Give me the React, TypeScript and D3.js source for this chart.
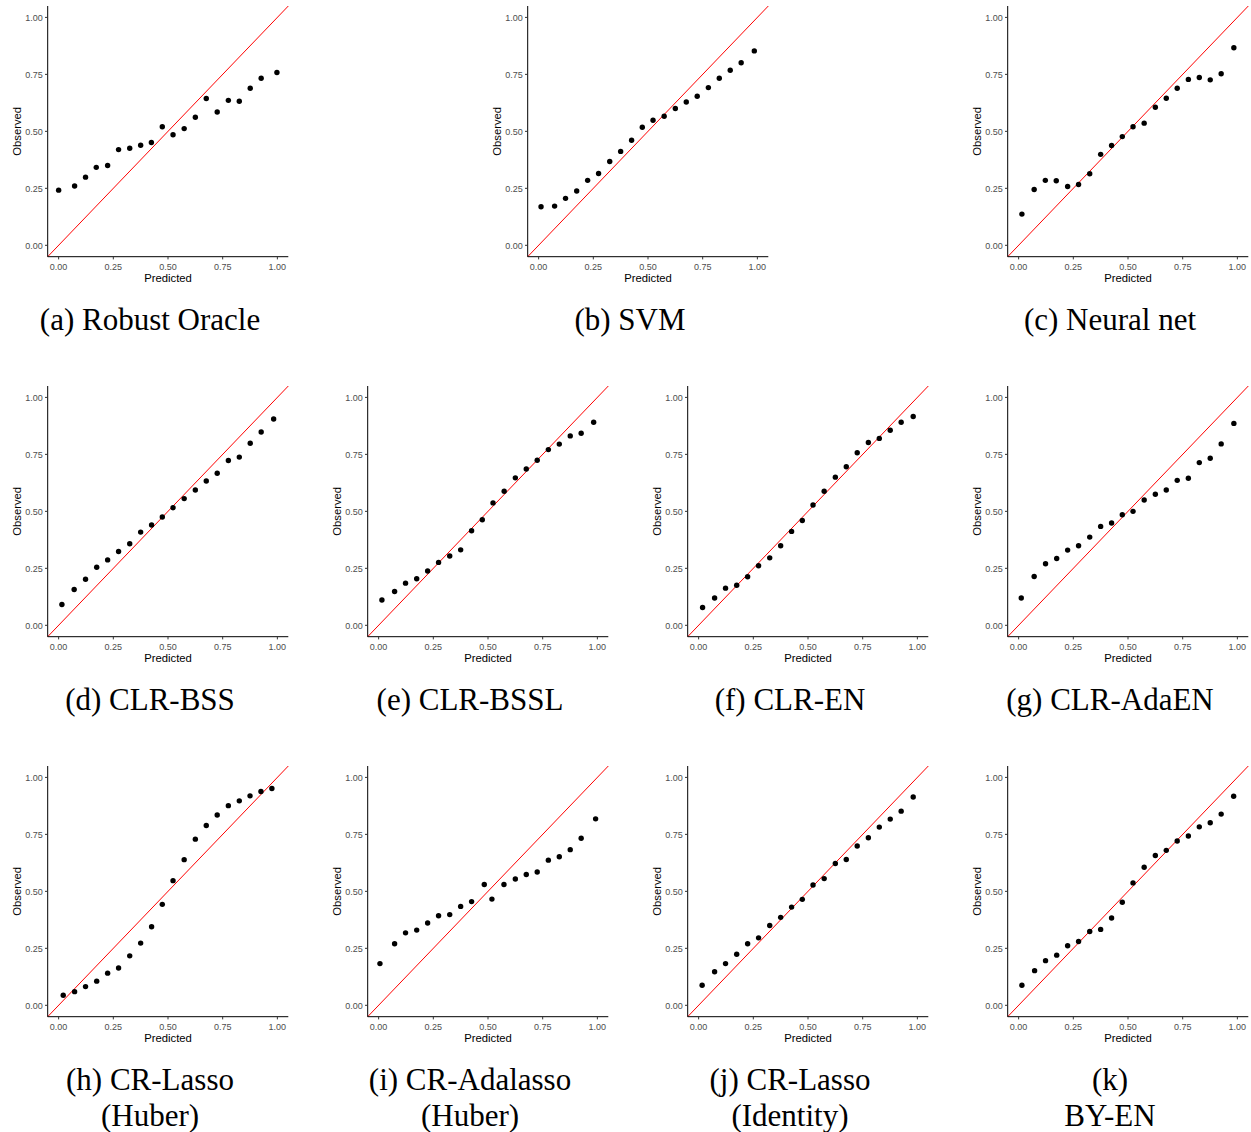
import React from 'react';
import * as d3 from 'd3';

const svgWidth = 1251;
const svgHeight = 1132;

const tickValues = [0, 0.25, 0.5, 0.75, 1];

const robustOracleX = [0.0, 0.073, 0.123, 0.172, 0.224, 0.274, 0.325, 0.375, 0.424, 0.474, 0.523, 0.574, 0.625, 0.675, 0.725, 0.776, 0.826, 0.876, 0.926, 0.998];
const robustOracleY = [0.242, 0.26, 0.299, 0.342, 0.35, 0.42, 0.426, 0.439, 0.451, 0.52, 0.485, 0.512, 0.562, 0.644, 0.585, 0.636, 0.632, 0.689, 0.733, 0.758];

const svmX = [0.011, 0.073, 0.123, 0.174, 0.224, 0.274, 0.325, 0.375, 0.425, 0.474, 0.523, 0.574, 0.625, 0.675, 0.725, 0.776, 0.826, 0.876, 0.926, 0.986];
const svmY = [0.169, 0.172, 0.206, 0.238, 0.285, 0.315, 0.368, 0.412, 0.461, 0.518, 0.549, 0.566, 0.6, 0.629, 0.654, 0.692, 0.733, 0.768, 0.801, 0.853];

const neuralNetX = [0.015, 0.071, 0.122, 0.172, 0.224, 0.274, 0.325, 0.375, 0.425, 0.474, 0.523, 0.574, 0.625, 0.675, 0.725, 0.776, 0.826, 0.876, 0.926, 0.984];
const neuralNetY = [0.137, 0.245, 0.285, 0.283, 0.258, 0.267, 0.314, 0.399, 0.438, 0.477, 0.52, 0.536, 0.606, 0.645, 0.689, 0.728, 0.736, 0.726, 0.753, 0.867];

const clrBssX = [0.015, 0.071, 0.123, 0.174, 0.224, 0.274, 0.325, 0.375, 0.425, 0.474, 0.523, 0.574, 0.625, 0.675, 0.725, 0.776, 0.826, 0.876, 0.926, 0.983];
const clrBssY = [0.091, 0.157, 0.202, 0.255, 0.287, 0.324, 0.358, 0.409, 0.44, 0.475, 0.516, 0.556, 0.594, 0.633, 0.667, 0.723, 0.738, 0.799, 0.848, 0.905];

const clrBsslX = [0.015, 0.073, 0.123, 0.174, 0.224, 0.274, 0.325, 0.375, 0.425, 0.474, 0.523, 0.574, 0.625, 0.675, 0.725, 0.776, 0.826, 0.876, 0.926, 0.983];
const clrBsslY = [0.111, 0.148, 0.185, 0.204, 0.238, 0.276, 0.304, 0.331, 0.415, 0.463, 0.537, 0.588, 0.647, 0.686, 0.724, 0.771, 0.795, 0.831, 0.843, 0.891];

const clrEnX = [0.018, 0.073, 0.123, 0.174, 0.224, 0.274, 0.325, 0.375, 0.425, 0.474, 0.523, 0.574, 0.625, 0.675, 0.725, 0.776, 0.826, 0.876, 0.926, 0.981];
const clrEnY = [0.078, 0.12, 0.163, 0.176, 0.213, 0.261, 0.296, 0.349, 0.412, 0.46, 0.528, 0.588, 0.65, 0.696, 0.757, 0.802, 0.82, 0.856, 0.891, 0.916];

const clrAdaEnX = [0.012, 0.071, 0.123, 0.174, 0.224, 0.274, 0.325, 0.375, 0.425, 0.474, 0.523, 0.574, 0.625, 0.675, 0.725, 0.776, 0.826, 0.876, 0.926, 0.984];
const clrAdaEnY = [0.12, 0.214, 0.27, 0.293, 0.33, 0.349, 0.387, 0.434, 0.449, 0.485, 0.5, 0.55, 0.575, 0.594, 0.636, 0.645, 0.714, 0.733, 0.796, 0.886];

const crLassoHuberX = [0.021, 0.073, 0.123, 0.174, 0.224, 0.274, 0.325, 0.375, 0.425, 0.474, 0.523, 0.574, 0.625, 0.675, 0.725, 0.776, 0.826, 0.875, 0.925, 0.975];
const crLassoHuberY = [0.044, 0.06, 0.082, 0.106, 0.141, 0.164, 0.217, 0.273, 0.345, 0.443, 0.547, 0.639, 0.729, 0.789, 0.835, 0.876, 0.897, 0.919, 0.938, 0.951];

const crAdalassoHuberX = [0.006, 0.073, 0.123, 0.174, 0.224, 0.274, 0.325, 0.375, 0.425, 0.483, 0.518, 0.573, 0.625, 0.675, 0.725, 0.776, 0.826, 0.876, 0.926, 0.992];
const crAdalassoHuberY = [0.183, 0.27, 0.318, 0.33, 0.361, 0.393, 0.398, 0.434, 0.455, 0.53, 0.466, 0.53, 0.554, 0.574, 0.585, 0.637, 0.652, 0.683, 0.733, 0.818];

const crLassoIdentityX = [0.016, 0.073, 0.123, 0.174, 0.224, 0.274, 0.325, 0.375, 0.425, 0.474, 0.523, 0.574, 0.625, 0.675, 0.725, 0.776, 0.826, 0.876, 0.926, 0.981];
const crLassoIdentityY = [0.088, 0.147, 0.183, 0.224, 0.27, 0.296, 0.35, 0.386, 0.431, 0.465, 0.528, 0.556, 0.622, 0.64, 0.699, 0.735, 0.782, 0.817, 0.852, 0.914];

const byEnX = [0.015, 0.073, 0.123, 0.174, 0.224, 0.274, 0.325, 0.375, 0.425, 0.474, 0.523, 0.574, 0.625, 0.675, 0.725, 0.776, 0.826, 0.876, 0.926, 0.983];
const byEnY = [0.088, 0.152, 0.196, 0.22, 0.261, 0.28, 0.324, 0.333, 0.383, 0.452, 0.537, 0.606, 0.657, 0.68, 0.721, 0.743, 0.783, 0.801, 0.839, 0.917];

const panels = [
  { xs: robustOracleX, ys: robustOracleY, caption: ['(a) Robust Oracle'], ox: 0, oy: 0 },
  { xs: svmX, ys: svmY, caption: ['(b) SVM'], ox: 480, oy: 0 },
  { xs: neuralNetX, ys: neuralNetY, caption: ['(c) Neural net'], ox: 960, oy: 0 },
  { xs: clrBssX, ys: clrBssY, caption: ['(d) CLR-BSS'], ox: 0, oy: 380 },
  { xs: clrBsslX, ys: clrBsslY, caption: ['(e) CLR-BSSL'], ox: 320, oy: 380 },
  { xs: clrEnX, ys: clrEnY, caption: ['(f) CLR-EN'], ox: 640, oy: 380 },
  { xs: clrAdaEnX, ys: clrAdaEnY, caption: ['(g) CLR-AdaEN'], ox: 960, oy: 380 },
  { xs: crLassoHuberX, ys: crLassoHuberY, caption: ['(h) CR-Lasso', '(Huber)'], ox: 0, oy: 760 },
  { xs: crAdalassoHuberX, ys: crAdalassoHuberY, caption: ['(i) CR-Adalasso', '(Huber)'], ox: 320, oy: 760 },
  { xs: crLassoIdentityX, ys: crLassoIdentityY, caption: ['(j) CR-Lasso', '(Identity)'], ox: 640, oy: 760 },
  { xs: byEnX, ys: byEnY, caption: ['(k)', 'BY-EN'], ox: 960, oy: 760 },
];

const xScale = d3.scaleLinear().domain([-0.05, 1.05]).range([47.7, 288.3]);
const yScale = d3.scaleLinear().domain([-0.05, 1.05]).range([256.7, 6]);
const fmt = d3.format('.2f');

const sans = 'Liberation Sans, Arial, sans-serif';
const serif = 'Liberation Serif, Times New Roman, serif';

function Panel({ xs, ys, caption, ox, oy }) {
  const [x0, x1] = xScale.range();
  const [y0, y1] = yScale.range();
  const diag = d3.line()([
    [xScale(-0.05), yScale(-0.05)],
    [xScale(1.05), yScale(1.05)],
  ]);
  return (
    <g transform={`translate(${ox}, ${oy})`}>
      <path d={diag} stroke="#ff0000" strokeWidth={1} fill="none" />
      {xs.map((x, i) => (
        <circle key={i} cx={xScale(x)} cy={yScale(ys[i])} r={2.7} fill="#000" />
      ))}
      <line x1={x0} x2={x1} y1={y0} y2={y0} stroke="#000" strokeWidth={1} />
      <line x1={x0} x2={x0} y1={y0} y2={y1} stroke="#000" strokeWidth={1} />
      {tickValues.map((t) => (
        <g key={'x' + t}>
          <line x1={xScale(t)} x2={xScale(t)} y1={y0} y2={y0 + 2.7} stroke="#333" />
          <text x={xScale(t)} y={y0 + 13.5} textAnchor="middle" fontFamily={sans} fontSize={9} fill="#4d4d4d">
            {fmt(t)}
          </text>
        </g>
      ))}
      {tickValues.map((t) => (
        <g key={'y' + t}>
          <line x1={x0 - 2.7} x2={x0} y1={yScale(t)} y2={yScale(t)} stroke="#333" />
          <text x={x0 - 4.8} y={yScale(t) + 3.2} textAnchor="end" fontFamily={sans} fontSize={9} fill="#4d4d4d">
            {fmt(t)}
          </text>
        </g>
      ))}
      <text x={(x0 + x1) / 2} y={281.5} textAnchor="middle" fontFamily={sans} fontSize={11.3} fill="#000">
        Predicted
      </text>
      <text
        transform={`translate(20.5, ${(y0 + y1) / 2}) rotate(-90)`}
        textAnchor="middle"
        fontFamily={sans}
        fontSize={11.3}
        fill="#000"
      >
        Observed
      </text>
      {caption.map((c, i) => (
        <text key={i} x={150} y={330 + i * 36} textAnchor="middle" fontFamily={serif} fontSize={31} fill="#000">
          {c}
        </text>
      ))}
    </g>
  );
}

export default function App() {
  return (
    <svg
      width={svgWidth}
      height={svgHeight}
      style={{ position: 'absolute', left: 0, top: 0, background: '#fff' }}
    >
      {panels.map((p, i) => (
        <Panel key={i} {...p} />
      ))}
    </svg>
  );
}
